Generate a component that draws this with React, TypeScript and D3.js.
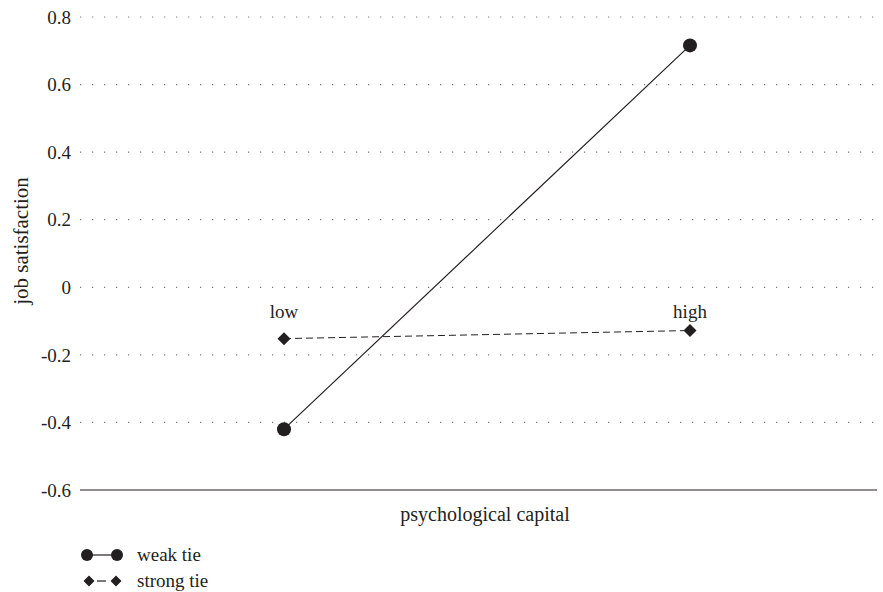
import React from "react";
import * as d3 from "d3";

const categories = ["low", "high"];
const weakTie = [-0.42, 0.716];
const strongTie = [-0.152, -0.128];
const yTicks = [0.8, 0.6, 0.4, 0.2, 0, -0.2, -0.4, -0.6];
const xTitle = "psychological capital";
const yTitle = "job satisfaction";
const legendLabels = ["weak tie", "strong tie"];

const W = 883, H = 592;
const font = "'Liberation Serif', 'Times New Roman', serif";
const ink = "#231f20";
const FS = 19;

export default function App() {
  const y = d3.scaleLinear().domain([-0.6, 0.8]).range([490, 17]);
  const x = d3.scalePoint<string>().domain(categories).range([284, 690]);
  const line = d3.line<[number, number]>().x(d => d[0]).y(d => d[1]);
  const weakPts: [number, number][] = categories.map((c, i) => [x(c)!, y(weakTie[i])]);
  const strongPts: [number, number][] = categories.map((c, i) => [x(c)!, y(strongTie[i])]);
  const diamond = (cx: number, cy: number, r: number) =>
    `M${cx},${cy - r}L${cx + r},${cy}L${cx},${cy + r}L${cx - r},${cy}Z`;
  const x0 = 80, x1 = 877;
  return (
    <svg width={W} height={H} style={{ position: "absolute", left: 0, top: 0, background: "#fff", fontFamily: font }}>
      {yTicks.map(t => (
        <g key={t}>
          {t !== -0.6 && (
            <line x1={x0} x2={x1} y1={y(t)} y2={y(t)} stroke="#777" strokeWidth={1.2}
              strokeDasharray="1.2,10.8" />
          )}
          <text x={71} y={y(t)} dy="0.35em" textAnchor="end" fontSize={FS} fill={ink}>
            {String(t)}
          </text>
        </g>
      ))}
      <line x1={x0} x2={x1} y1={y(-0.6)} y2={y(-0.6)} stroke={ink} strokeWidth={1} />
      <text x={485} y={521} textAnchor="middle" fontSize={20} fill={ink}>{xTitle}</text>
      <text transform={`translate(28,241) rotate(-90)`} textAnchor="middle" fontSize={21} fill={ink}>{yTitle}</text>
      {categories.map(c => (
        <text key={c} x={x(c)!} y={318} textAnchor="middle" fontSize={FS} fill={ink}>{c}</text>
      ))}
      <path d={line(strongPts)!} fill="none" stroke={ink} strokeWidth={1} strokeDasharray="7,4" />
      <path d={line(weakPts)!} fill="none" stroke={ink} strokeWidth={1.2} />
      {weakPts.map((p, i) => <circle key={i} cx={p[0]} cy={p[1]} r={7} fill={ink} />)}
      {strongPts.map((p, i) => <path key={i} d={diamond(p[0], p[1], 6.5)} fill={ink} />)}
      <g>
        <line x1={87} x2={117} y1={555} y2={555} stroke={ink} strokeWidth={1.2} />
        <circle cx={87} cy={555} r={6} fill={ink} />
        <circle cx={117} cy={555} r={6} fill={ink} />
        <text x={137} y={561} fontSize={FS} fill={ink}>{legendLabels[0]}</text>
        <line x1={97} x2={106} y1={581} y2={581} stroke={ink} strokeWidth={1.2} />
        <path d={diamond(89, 581, 5.5)} fill={ink} />
        <path d={diamond(116, 581, 5.5)} fill={ink} />
        <text x={137} y={587} fontSize={FS} fill={ink}>{legendLabels[1]}</text>
      </g>
    </svg>
  );
}
